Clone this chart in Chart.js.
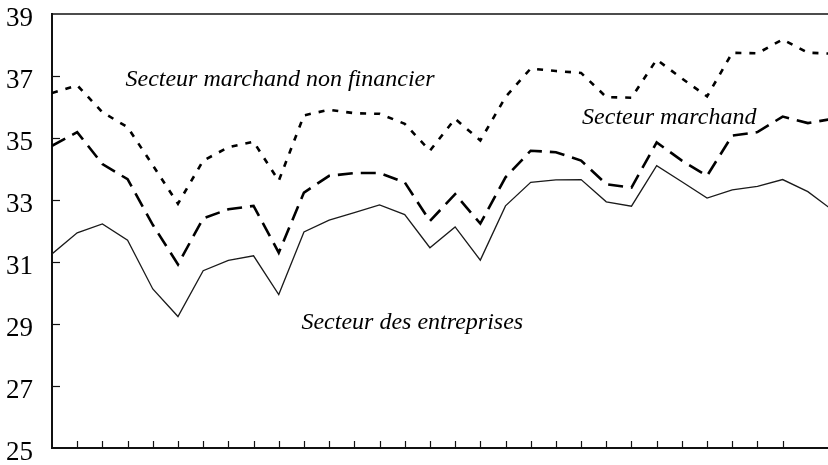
<!DOCTYPE html>
<html lang="fr">
<head>
<meta charset="utf-8">
<title>Taux de marge par secteur</title>
<script src="https://cdn.jsdelivr.net/npm/chart.js@4.4.1/dist/chart.umd.min.js"></script>
<style>
  html, body { margin: 0; padding: 0; background: #fff; overflow: hidden; }
</style>
</head>
<body>
<canvas id="margeChart" width="828" height="465"></canvas>
<script>
// périodes (pas de libellés sur l'axe horizontal, seulement des graduations)
var periodes = [0, 1, 2, 3, 4, 5, 6, 7, 8, 9, 10, 11, 12, 13, 14, 15,
                16, 17, 18, 19, 20, 21, 22, 23, 24, 25, 26, 27, 28, 29, 30, 31];

var marchandNonFinancier = [36.45, 36.70, 35.83, 35.35, 34.12, 32.88, 34.27, 34.70, 34.88, 33.62,
                            35.73, 35.91, 35.80, 35.78, 35.46, 34.59, 35.62, 34.92, 36.32, 37.24,
                            37.16, 37.10, 36.32, 36.30, 37.53, 36.92, 36.34, 37.75, 37.73, 38.18,
                            37.75, 37.72];

var marchand = [34.75, 35.19, 34.16, 33.67, 32.20, 30.92, 32.41, 32.70, 32.81, 31.30,
                33.24, 33.78, 33.87, 33.87, 33.57, 32.32, 33.19, 32.24, 33.73, 34.59,
                34.54, 34.27, 33.51, 33.40, 34.86, 34.27, 33.78, 35.08, 35.19, 35.69,
                35.48, 35.62];

var entreprises = [31.26, 31.94, 32.23, 31.70, 30.13, 29.24, 30.72, 31.05, 31.20, 29.95,
                   31.97, 32.35, 32.59, 32.84, 32.53, 31.46, 32.13, 31.06, 32.81, 33.57,
                   33.65, 33.66, 32.94, 32.80, 34.11, 33.59, 33.06, 33.33, 33.44, 33.66,
                   33.27, 32.66];

var yMin = 25, yMax = 39, yPas = 2;
var xMax = 30.8; // le graphique est coupé juste avant la dernière période

// libellés des courbes, placés en unités des axes
var libelles = [
    { texte: 'Secteur marchand non financier', x: 9.05, y: 36.87 },
    { texte: 'Secteur marchand', x: 24.5, y: 35.67 },
    { texte: 'Secteur des entreprises', x: 14.3, y: 29.04 }
];

function points(valeurs) {
    return periodes.map(function (p, i) { return { x: p, y: valeurs[i] }; });
}

// graduations vers l'intérieur, trait du haut et libellés en italique
var cadrePlugin = {
    id: 'cadre',
    afterDraw: function (chart) {
        var ctx = chart.ctx;
        var area = chart.chartArea;
        var sx = chart.scales.x, sy = chart.scales.y;
        ctx.save();
        ctx.strokeStyle = '#111';
        ctx.lineWidth = 1.6;
        ctx.beginPath();
        ctx.moveTo(area.left, area.top);
        ctx.lineTo(area.right, area.top);
        ctx.stroke();

        ctx.lineWidth = 1.2;
        sx.ticks.forEach(function (t) {
            if (t.value <= 0 || t.value % 1 !== 0) return;
            var px = Math.round(sx.getPixelForValue(t.value)) + 0.5;
            ctx.beginPath();
            ctx.moveTo(px, area.bottom);
            ctx.lineTo(px, area.bottom - 7);
            ctx.stroke();
        });
        sy.ticks.forEach(function (t) {
            if (t.value <= yMin || t.value >= yMax) return;
            var py = Math.round(sy.getPixelForValue(t.value)) + 0.5;
            ctx.beginPath();
            ctx.moveTo(area.left, py);
            ctx.lineTo(area.left + 8, py);
            ctx.stroke();
        });

        ctx.fillStyle = '#000';
        ctx.font = 'italic 24px "Liberation Serif", "Times New Roman", serif';
        ctx.textAlign = 'center';
        ctx.textBaseline = 'middle';
        libelles.forEach(function (l) {
            ctx.fillText(l.texte, sx.getPixelForValue(l.x), sy.getPixelForValue(l.y));
        });
        ctx.restore();
    }
};

var ctx = document.getElementById('margeChart').getContext('2d');
var margeChart = new Chart(ctx, {
    type: 'line',
    data: {
        datasets: [{
            label: 'Secteur marchand non financier',
            data: points(marchandNonFinancier),
            borderColor: '#000',
            borderWidth: 2.6,
            borderDash: [6, 8]
        },
        {
            label: 'Secteur marchand',
            data: points(marchand),
            borderColor: '#000',
            borderWidth: 2.6,
            borderDash: [15, 8]
        },
        {
            label: 'Secteur des entreprises',
            data: points(entreprises),
            borderColor: '#1a1a1a',
            borderWidth: 1.3
        }]
    },
    options: {
        responsive: false,
        animation: false,
        devicePixelRatio: 1,
        layout: { padding: { top: 14, right: 0, bottom: 0, left: 0 } },
        elements: {
            point: { radius: 0 },
            line: { tension: 0, fill: false, borderCapStyle: 'butt' }
        },
        plugins: {
            legend: { display: false },
            tooltip: { enabled: false }
        },
        scales: {
            x: {
                type: 'linear',
                min: 0,
                max: xMax,
                ticks: { display: false, stepSize: 1 },
                grid: { display: false, drawTicks: false },
                border: { display: true, color: '#111', width: 2 },
                afterFit: function (scale) {
                    scale.height = 17;
                    scale.paddingLeft = 0;
                    scale.paddingRight = 0;
                }
            },
            y: {
                min: yMin,
                max: yMax,
                ticks: {
                    stepSize: yPas,
                    color: '#000',
                    padding: 19,
                    labelOffset: 5,
                    font: { family: '"Liberation Serif", "Times New Roman", serif', size: 27, lineHeight: 1 }
                },
                grid: { display: false, drawTicks: false },
                border: { display: true, color: '#111', width: 2 },
                afterFit: function (scale) {
                    scale.width = 52;
                    scale.paddingTop = 0;
                    scale.paddingBottom = 0;
                }
            }
        }
    },
    plugins: [cadrePlugin]
});
</script>
</body>
</html>
